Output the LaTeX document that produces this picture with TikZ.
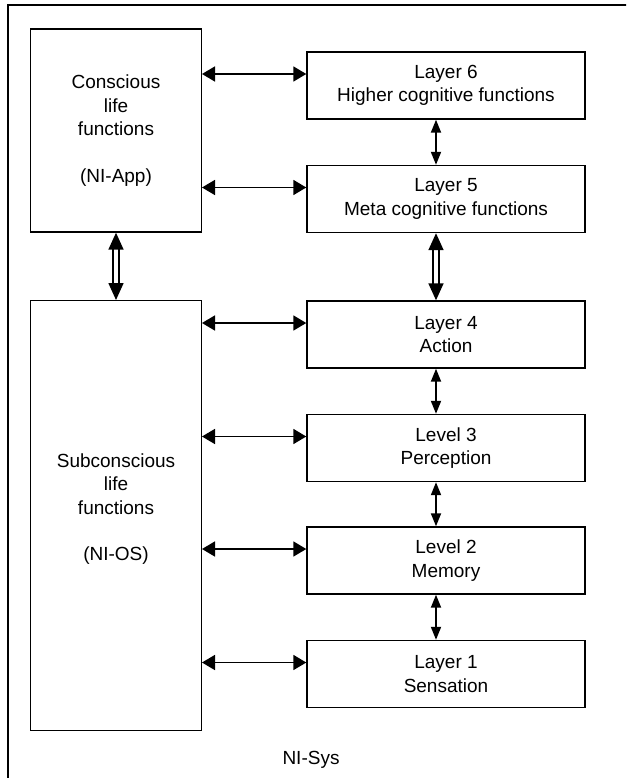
\documentclass[tikz,border=0pt]{standalone}
\usepackage{fontspec}
\setmainfont{Liberation Sans}
\usetikzlibrary{arrows.meta}

\tikzset{
  layerbox/.style={draw, line width=1.4pt, inner sep=0pt, minimum width=278pt, minimum height=67pt, align=center},
  lifebox/.style={draw, line width=1.4pt, inner sep=0pt, minimum width=170.6pt, align=center},
  sidearrow/.style={{Triangle[length=13pt,width=15pt]}-{Triangle[length=13pt,width=15pt]}, line width=1.8pt},
  stackarrow/.style={{Triangle[length=13pt,width=10pt]}-{Triangle[length=13pt,width=10pt]}, line width=1.8pt},
  widearrow/.style={{Triangle[length=17pt,width=15pt]}-{Triangle[length=17pt,width=15pt]}, double, double distance=4.5pt, line width=1.6pt}
}

\begin{document}
\begin{tikzpicture}[x=1pt, y=-1pt, font=\fontsize{19}{23.3}\selectfont]
    % Page frame (runs past the right and bottom edges)
    \useasboundingbox (0,0) rectangle (626,778);
    \clip (0,0) rectangle (626,778);
    \draw[line width=2.6pt] (8,5) rectangle (660,800);

    % Life function blocks on the left
    \node[lifebox, minimum height=203pt] (cons) at (116,130.5) {Conscious\\life\\functions\\[23.3pt](NI-App)};
    \node[lifebox, minimum height=430pt, text depth=17pt] (subc) at (116,515.7) {Subconscious\\life\\functions\\[23.3pt](NI-OS)};

    % Layer stack on the right
    \node[layerbox] (L6) at (446,85.5) {Layer 6\\Higher cognitive functions};
    \node[layerbox] (L5) at (446,199)  {Layer 5\\Meta cognitive functions};
    \node[layerbox] (L4) at (446,334.5) {Layer 4\\Action};
    \node[layerbox] (L3) at (446,448)  {Level 3\\Perception};
    \node[layerbox] (L2) at (446,560.5) {Level 2\\Memory};
    \node[layerbox] (L1) at (446,674)  {Layer 1\\Sensation};

    \node (sys) at (311,760) {NI-Sys};

    % Links between the blocks and the layers
    \foreach \n/\m in {6/cons,5/cons,4/subc,3/subc,2/subc,1/subc} {
        \coordinate (t\n) at ([yshift=11.5pt]L\n.west);
        \draw[sidearrow] (t\n -| \m.east) -- (t\n);
    }

    % Links inside the stack
    \foreach \a/\b in {L6/L5,L4/L3,L3/L2,L2/L1}
        \draw[stackarrow] ([xshift=-10pt]\a.south) -- ([xshift=-10pt]\b.north);
    \draw[widearrow] ([xshift=-10pt]L5.south) -- ([xshift=-10pt]L4.north);
    \draw[widearrow] (cons.south) -- (subc.north);
\end{tikzpicture}
\end{document}
